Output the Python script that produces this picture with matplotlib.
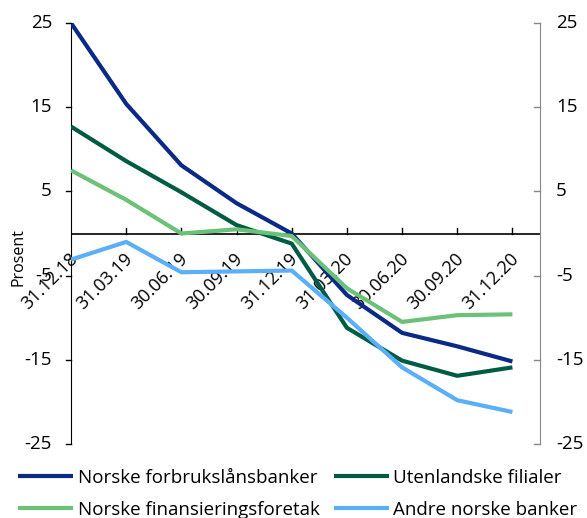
import matplotlib
matplotlib.use("Agg")
import matplotlib.pyplot as plt
import matplotlib.transforms as mtransforms

plt.rcParams['font.family'] = ['Open Sans', 'DejaVu Sans']

dates = ["31.12.18", "31.03.19", "30.06.19", "30.09.19", "31.12.19",
         "31.03.20", "30.06.20", "30.09.20", "31.12.20"]
forbruk = [25.0, 15.4, 8.1, 3.6, 0.0, -7.3, -11.8, -13.4, -15.2]
filialer = [12.7, 8.6, 4.9, 1.0, -1.2, -11.2, -15.1, -16.9, -15.9]
finans = [7.5, 4.0, 0.0, 0.5, -0.3, -6.5, -10.5, -9.7, -9.6]
andre = [-3.1, -1.0, -4.6, -4.5, -4.4, -10.0, -15.9, -19.8, -21.2]

names = ["Norske forbrukslånsbanker", "Utenlandske filialer",
         "Norske finansieringsforetak", "Andre norske banker"]
colors = ["#0a2a86", "#005b45", "#6cc178", "#5aaff8"]
yticks = [25, 15, 5, -5, -15, -25]

fig = plt.figure(figsize=(5.87, 5.18), dpi=100)
ax = fig.add_axes([71/587, 1-444/518, (540-71)/587, (444-23)/518])

x = list(range(len(dates)))
series = [forbruk, filialer, finans, andre]
lines = []
for s, c, n in zip(series, colors, names):
    l, = ax.plot(x, s, color=c, lw=3, label=n, solid_capstyle='butt', zorder=3)
    lines.append(l)

ax.set_xlim(0, 8.5)
ax.set_ylim(-25, 25)
ax.axhline(0, color='black', lw=1.2, zorder=2)

for sp in ['top', 'bottom']:
    ax.spines[sp].set_visible(False)
ax.spines['left'].set_color('black')
ax.spines['right'].set_color('#888888')

ax.set_yticks([])
ax.set_xticks([])

trans = mtransforms.blended_transform_factory(ax.transAxes, ax.transData)
left_off = mtransforms.offset_copy(trans, fig=fig, x=-19, y=0, units='dots')
right_off = mtransforms.offset_copy(trans, fig=fig, x=16, y=0, units='dots')
for v in yticks:
    ax.plot([-0.09, 0], [v, v], color='black', lw=1, clip_on=False, zorder=4)
    ax.plot([8.4, 8.5], [v, v], color='#888888', lw=1, clip_on=False, zorder=4)
    ax.text(0, v, str(v), transform=left_off, ha='right', va='center', fontsize=13.5)
    ax.text(1, v, str(v), transform=right_off, ha='left', va='center', fontsize=13.5)

for i in x:
    if i > 0:
        ax.plot([i, i], [0, 0.7], color='black', lw=1, zorder=2)
    ax.text(i - 0.05, -1.9, dates[i], rotation=45, ha='right', va='top',
            rotation_mode='anchor', fontsize=13, zorder=1)

fig.text(18/587, 1-257/518, "Prosent", rotation=90, ha='center', va='center', fontsize=11.5)

handles = [lines[0], lines[2], lines[1], lines[3]]
fig.legend(handles=handles, loc='lower left', bbox_to_anchor=(10/587, -0.018), ncol=2,
           frameon=False, fontsize=13.5, handlelength=2.9, handletextpad=0.25,
           columnspacing=0.8, labelspacing=0.75, borderaxespad=0.05)

fig.savefig("out.png", dpi=100)
